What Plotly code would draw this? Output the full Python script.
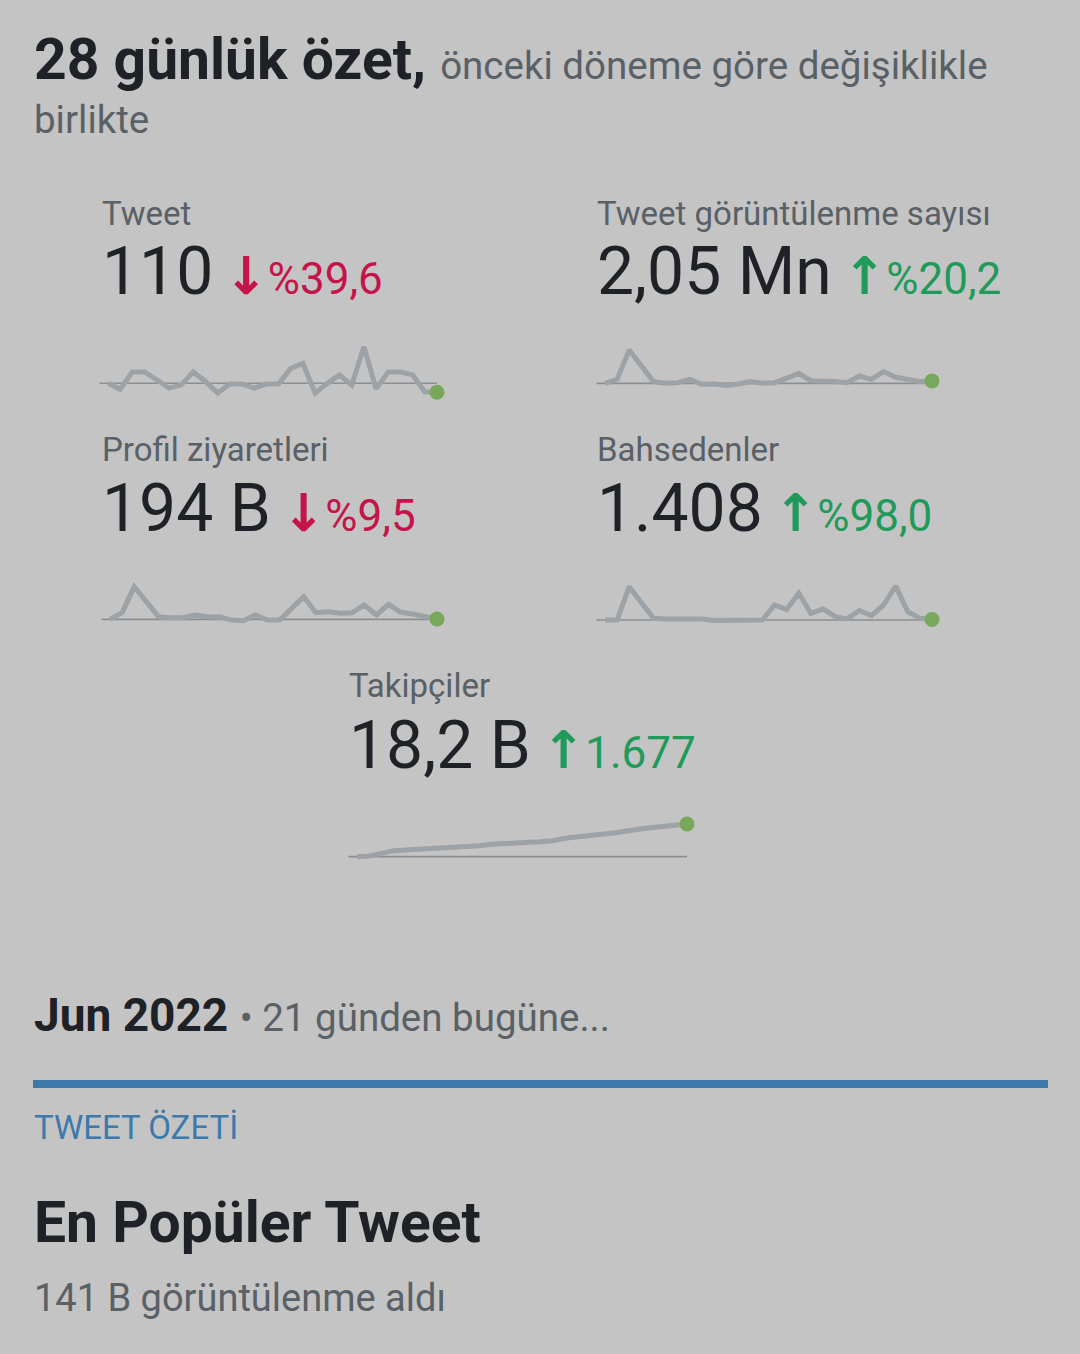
import plotly.graph_objects as go

W, H = 1080, 1354

days = list(range(28))

tweets = [4.0, 3.0, 5.9, 5.9, 4.6, 3.2, 3.7, 5.9, 4.3, 2.4, 3.9, 3.9, 3.2, 3.9,
          3.9, 6.5, 7.3, 2.4, 4.0, 5.4, 3.7, 10.1, 3.1, 5.9, 5.9, 5.4, 2.6, 2.5]

views_k = [60, 78, 210, 135, 68, 60, 63, 78, 56, 57, 50, 57, 68, 60,
           63, 83, 105, 72, 72, 68, 63, 93, 78, 113, 87, 75, 68, 71]

profile_k = [5.2, 7.2, 15.0, 10.5, 6.0, 5.7, 5.7, 6.5, 6.0, 6.0, 5.0, 4.8, 6.5, 5.0,
             5.0, 8.5, 12.0, 7.2, 7.5, 7.0, 7.2, 9.5, 6.5, 9.7, 7.3, 6.8, 6.0, 5.3]

mentions = [30, 30, 90, 63, 33, 32, 32, 32, 32, 29, 29, 29, 29, 30,
            57, 49, 78, 42, 50, 36, 32, 47, 38, 57, 91, 45, 33, 31]

followers = [16524, 16558, 16695, 16832, 16866, 16900, 16917, 16952, 17003, 17037,
             17089, 17157, 17208, 17242, 17260, 17294, 17345, 17465, 17516, 17602,
             17670, 17738, 17807, 17926, 18012, 18080, 18132, 18200]

labels = ["Tweet", "Tweet görüntülenme sayısı", "Profil ziyaretleri", "Bahsedenler", "Takipçiler"]
totals = ["110", "2,05 Mn", "194 B", "1.408", "18,2 B"]
changes = ["%39,6", "%20,2", "%9,5", "%98,0", "1.677"]
going_up = [False, True, False, True, True]

BG = "#c4c4c4"
DARK = "#1e2226"
GREY = "#596066"
RED = "#c4154a"
GREEN = "#1f9a5b"
SPARK = "#9da2a6"
BASE = "#8b8f93"
DOT = "#78a85a"
BLUE = "#3d79ab"
FONT = "Roboto"

# sparkline placement: (series, x px of first day, x px of last day, y top px, y bottom px, value range)
sparks = [
    (tweets, 108, 437, 340, 400, [1.22, 11.22]),
    (views_k, 605, 932, 340, 400, [-15, 255]),
    (profile_k, 110, 437, 575, 635, [0.5, 18.5]),
    (mentions, 605, 932, 575, 635, [3, 111]),
    (followers, 357, 687, 810, 870, [15840, 18918]),
]

# text block positions: (x px, label y px, value y px)
blocks = [(100, 213, 271), (595, 213, 271), (100, 449, 508), (595, 449, 508), (347, 685, 745)]

fig = go.Figure()
layout = dict(
    width=W, height=H, margin=dict(l=0, r=0, t=0, b=0),
    paper_bgcolor=BG, plot_bgcolor="rgba(0,0,0,0)",
    showlegend=False, font=dict(family=FONT, color=DARK),
)
shapes = []

for i, (vals, x0, x1, yt, yb, yr) in enumerate(sparks):
    n = i + 1
    xa = "x" if n == 1 else "x%d" % n
    ya = "y" if n == 1 else "y%d" % n
    step = (x1 - x0) / 27
    layout["xaxis" if n == 1 else "xaxis%d" % n] = dict(
        domain=[(x0 - step) / W, (x0 + 28 * step) / W], range=[-1, 28],
        visible=False, fixedrange=True, anchor=ya)
    layout["yaxis" if n == 1 else "yaxis%d" % n] = dict(
        domain=[1 - yb / H, 1 - yt / H], range=yr,
        visible=False, fixedrange=True, anchor=xa)
    shapes.append(dict(type="line", xref=xa, yref=ya, x0=-0.7, x1=27, y0=vals[0], y1=vals[0],
                       line=dict(color=BASE, width=1.6), layer="below"))
    fig.add_trace(go.Scatter(x=days, y=vals, xaxis=xa, yaxis=ya, mode="lines",
                             line=dict(color=SPARK, width=5), cliponaxis=False,
                             hoverinfo="skip"))
    fig.add_trace(go.Scatter(x=[days[-1]], y=[vals[-1]], xaxis=xa, yaxis=ya, mode="markers",
                             marker=dict(color=DOT, size=15), cliponaxis=False,
                             hoverinfo="skip"))

ann = []


def text(x, y, s, size, color=DARK, anchor="middle"):
    ann.append(dict(x=x / W, y=1 - y / H, xref="paper", yref="paper", text=s,
                    showarrow=False, xanchor="left", yanchor=anchor,
                    font=dict(family=FONT, size=size, color=color)))


# header
text(32, 60, "<b>28 günlük özet,</b> <span style='font-size:38.5px;color:%s'>önceki döneme göre değişiklikle</span>" % GREY, 57)
text(32, 120, "birlikte", 38.5, GREY)

for (x, yl, yv), lab, tot, ch, up in zip(blocks, labels, totals, changes, going_up):
    col = GREEN if up else RED
    arrow = "↑" if up else "↓"
    text(x, yl, lab, 33, GREY)
    text(x, yv, "%s<span style='font-size:44px;color:%s'> "
                "<span style='font-family:DejaVu Sans;font-size:52px'><b>%s</b></span>%s</span>"
         % (tot, col, arrow, ch), 66)

# lower section
text(32, 1015, "<b>Jun 2022</b> <span style='font-size:38.5px;color:%s'>• 21 günden bugüne...</span>" % GREY, 46)
shapes.append(dict(type="rect", xref="paper", yref="paper", x0=33 / W, x1=1048 / W,
                   y0=1 - 1088 / H, y1=1 - 1080 / H, fillcolor=BLUE, line=dict(width=0)))
text(32, 1127, "TWEET ÖZETİ", 33, BLUE)
text(32, 1222, "<b>En Popüler Tweet</b>", 57)
text(32, 1298, "141 B görüntülenme aldı", 38, GREY)

layout["shapes"] = shapes
layout["annotations"] = ann
fig.update_layout(**layout)

fig.write_html("out.html", config={"displayModeBar": False},
               post_script="document.body.style.margin='0';")
